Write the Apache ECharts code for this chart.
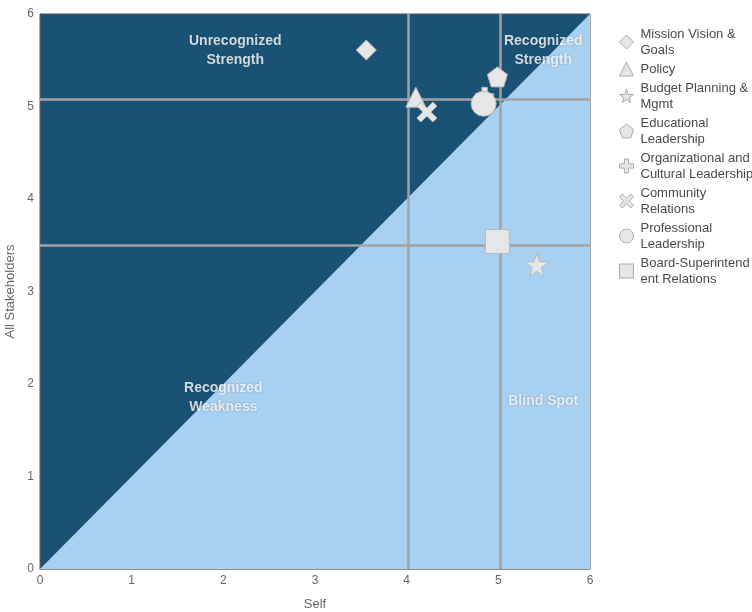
<!DOCTYPE html>
<html><head><meta charset="utf-8">
<script src="https://cdn.jsdelivr.net/npm/echarts@6/dist/echarts.min.js"></script>
<style>html,body{margin:0;padding:0;background:#fff}#c{width:752px;height:612px}</style>
</head><body><div id="c"></div>
<script>
const names = ["Mission Vision & Goals","Policy","Budget Planning & Mgmt","Educational Leadership","Organizational and Cultural Leadership","Community Relations","Professional Leadership","Board-Superintendent Relations"];
const legendText = ["Mission Vision &\nGoals","Policy","Budget Planning &\nMgmt","Educational\nLeadership","Organizational and\nCultural Leadership","Community\nRelations","Professional\nLeadership","Board-Superintend\nent Relations"];
const selfScores = [3.56, 4.10, 5.42, 4.99, 4.85, 4.22, 4.84, 4.99];
const stakeholderScores = [5.61, 5.10, 3.29, 5.32, 5.11, 4.94, 5.03, 3.54];
const meanSelf = [4.02, 5.02];
const meanStake = [5.08, 3.50];
const quadrantLabels = [
  {text:"Unrecognized\nStrength", x:2.13, y:5.6},
  {text:"Recognized\nStrength", x:5.49, y:5.6},
  {text:"Recognized\nWeakness", x:2.0, y:1.85},
  {text:"Blind Spot", x:5.49, y:1.82}
];
const xTicks = [0,1,2,3,4,5,6];

const symbols = [
  'diamond','triangle',
  'path://M50,0 L61,35 L98,35 L68,57 L79,91 L50,70 L21,91 L32,57 L2,35 L39,35 Z',
  'path://M50,0 L97,35 L79,92 L21,92 L3,35 Z',
  'path://M35,0 H65 V35 H100 V65 H65 V100 H35 V65 H0 V35 H35 Z',
  'path://M20,0 L50,30 L80,0 L100,20 L70,50 L100,80 L80,100 L50,70 L20,100 L0,80 L30,50 L0,20 Z',
  'circle','rect'
];
const sizes = [20,20,24,20,18,20,25,24];

const chart = echarts.init(document.getElementById('c'));
const series = [];
series.push({
  type:'line', name:'_area', silent:true, symbol:'none',
  data:[[0,0],[6,6]],
  lineStyle:{width:0}, areaStyle:{color:'#a8d0f1', opacity:1},
  z:1,
  markLine:{silent:true, symbol:'none', label:{show:false},
    lineStyle:{color:'#a3a3a3', width:2.5, type:'solid'},
    data:[...meanSelf.map(v=>({xAxis:v})), ...meanStake.map(v=>({yAxis:v}))]}
});
names.forEach((n,i)=>{
  series.push({
    type:'scatter', name:n, symbol:symbols[i], symbolSize:sizes[i],
    data:[[selfScores[i], stakeholderScores[i]]],
    itemStyle:{color:'#e6e6e6', borderColor:'#b8b8b8', borderWidth:1, opacity:1},
    z:5
  });
});
series.push({
  type:'scatter', name:'_labels', silent:true, symbolSize:0,
  data:quadrantLabels.map(q=>({value:[q.x,q.y], label:{formatter:q.text}})),
  label:{show:true, position:'inside', color:'#fff', fontWeight:'bold', fontSize:14, fontFamily:'Liberation Sans, Arial', lineHeight:19, align:'center',
    textShadowColor:'rgba(0,0,0,0.35)', textShadowBlur:2},
  z:6
});

chart.setOption({
  animation:false,
  textStyle:{fontFamily:'Liberation Sans, Arial, sans-serif'},
  grid:{left:40, right:162, top:14, bottom:43, containLabel:false, outerBoundsMode:'none', show:true, backgroundColor:'#1a5276', borderColor:'#555', borderWidth:1},
  xAxis:{type:'value', min:0, max:6, interval:1, name:'Self', nameLocation:'middle', nameGap:29,
    nameTextStyle:{color:'#666', fontSize:13},
    axisLine:{show:true, lineStyle:{color:'#888', width:1.5}}, axisTick:{show:false},
    axisLabel:{color:'#666', fontSize:12, margin:6, formatter:v=>xTicks.includes(v)?String(v):''}, splitLine:{show:false}},
  yAxis:{type:'value', min:0, max:6, interval:1, name:'All Stakeholders', nameLocation:'middle', nameGap:17,
    nameTextStyle:{color:'#666', fontSize:13},
    axisLine:{show:true, lineStyle:{color:'#555'}}, axisTick:{show:false},
    axisLabel:{color:'#666', fontSize:12, margin:6}, splitLine:{show:false}},
  legend:{orient:'vertical', left:614, top:21, itemWidth:14, itemHeight:14, itemGap:3,
    data:names,
    formatter:n=>legendText[names.indexOf(n)],
    textStyle:{color:'#4a4a4a', fontSize:13, lineHeight:16, padding:[0,0,0,2]},
    itemStyle:{color:'#e6e6e6', borderColor:'#aaa', borderWidth:1}},
  series:series
});
</script></body></html>
